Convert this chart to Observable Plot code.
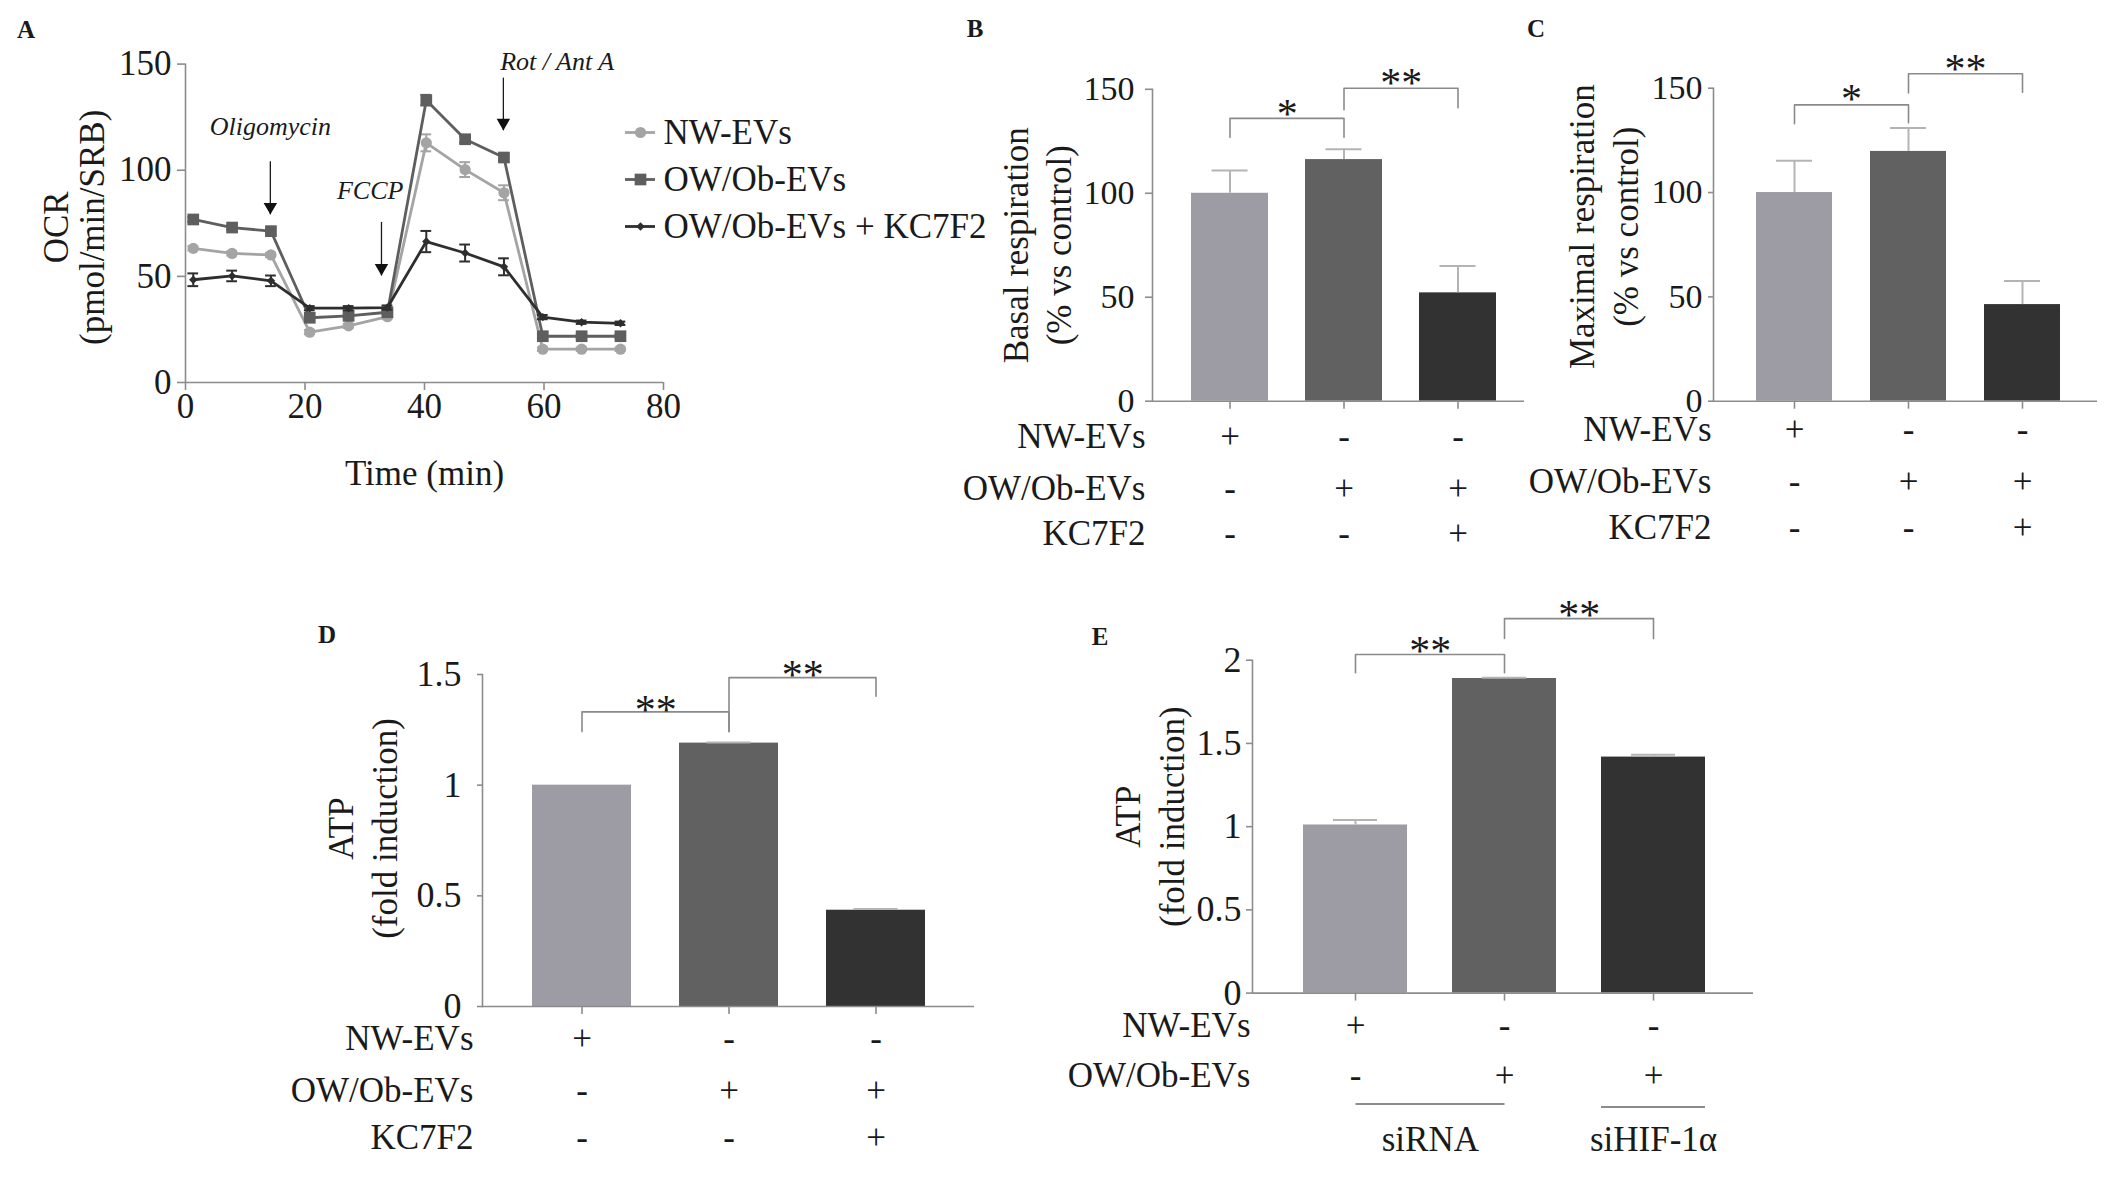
<!DOCTYPE html>
<html><head><meta charset="utf-8">
<script src="https://cdn.jsdelivr.net/npm/d3@7"></script>
<script src="https://cdn.jsdelivr.net/npm/@observablehq/plot@0.6"></script>
<style>
html,body{margin:0;padding:0;background:#fff;}
#fig{position:relative;width:2126px;height:1196px;background:#fff;font-family:"Liberation Serif","Times New Roman",serif;color:#1a1a1a;overflow:hidden;}
.letter{position:absolute;font-weight:bold;font-size:25px;line-height:1;transform:translate(-50%,-50%);}
</style></head><body><div id="fig"></div>
<script>
// ---------------- Data ----------------
// Panel A: OCR time course
const timePoints = [1.3, 7.8, 14.3, 20.8, 27.3, 33.8, 40.3, 46.8, 53.3, 59.8, 66.3, 72.8];
const ocrNW    = [63.2, 60.8, 60.1, 23.7, 26.7, 31.0, 112.9, 100.3, 89.4, 15.7, 15.7, 15.7];
const ocrNWErr = [1, 1, 1, 1, 1, 1, 4, 3.5, 3.5, 0.8, 0.8, 0.8];
const ocrOW    = [76.8, 73.0, 71.3, 30.5, 31.4, 33.1, 133.0, 114.6, 106.0, 21.8, 21.8, 21.8];
const ocrOWErr = [1, 1, 1, 1, 1, 1, 2.5, 1.5, 1.5, 1, 1, 1];
const ocrKC    = [48.4, 50.2, 47.9, 35.0, 35.0, 35.3, 66.4, 61.0, 54.5, 30.8, 28.4, 27.9];
const ocrKCErr = [3, 2.5, 2.5, 1, 1, 1, 5, 4, 4, 1, 0.8, 0.8];
const seriesNames = ["NW-EVs", "OW/Ob-EVs", "OW/Ob-EVs + KC7F2"];
const timeTicks = [0, 20, 40, 60, 80];
const ocrTicks = [0, 50, 100, 150];
const drugNames = ["Oligomycin", "FCCP", "Rot / Ant A"];
const drugTimes = [14.2, 32.8, 53.2];
const arrowFrom = [104, 75.4, 143.4];
const arrowTo = [79, 50.2, 118.6];
const drugLabelX = [14.2, 30.9, 62.2];
const drugLabelY = [120.7, 90.2, 151.2];

// Panels B-D: treatment groups
const groupsBCD = ["NW-EVs", "OW/Ob-EVs", "OW/Ob-EVs + KC7F2"];
const nwSigns = ["+", "-", "-"];
const owSigns = ["-", "+", "+"];
const kcSigns = ["-", "-", "+"];
const basalMean = [100, 116.2, 52.1];
const basalErr = [10.9, 5.0, 12.9];
const maximalMean = [100, 119.7, 46.3];
const maximalErr = [15.2, 11.2, 11.3];
const respTicks = [0, 50, 100, 150];
const atpD = [1.0, 1.19, 0.435];
const atpDErr = [0, 0.003, 0.006];
const atpDTicks = [0, 0.5, 1, 1.5];
// Panel E
const groupsE = ["NW-EVs + siRNA", "OW/Ob-EVs + siRNA", "OW/Ob-EVs + siHIF-1α"];
const nwSignsE = ["+", "-", "-"];
const owSignsE = ["-", "+", "+"];
const atpE = [1.01, 1.89, 1.418];
const atpEErr = [0.03, 0.005, 0.014];
const atpETicks = [0, 0.5, 1, 1.5, 2];
const siLabels = ["siRNA", "siHIF-1α"];

// Significance brackets (data units)
const bracketsB = [
  {from: 0, to: 1, top: 136, low1: 126.9, low2: 126.9, label: "*", star: 141},
  {from: 1, to: 2, top: 150.5, low1: 140.2, low2: 141.1, label: "**", star: 156}
];
const bracketsC = [
  {from: 0, to: 1, top: 142, low1: 133, low2: 133.5, label: "*", star: 147.7},
  {from: 1, to: 2, top: 156.9, low1: 147.7, low2: 148, label: "**", star: 162.2}
];
const bracketsD = [
  {from: 0, to: 1, top: 1.331, low1: 1.242, low2: 1.242, label: "**", star: 1.367},
  {from: 1, to: 2, top: 1.486, low1: 1.242, low2: 1.402, label: "**", star: 1.528}
];
const bracketsE = [
  {from: 0, to: 1, top: 2.034, low1: 1.925, low2: 1.925, label: "**", star: 2.096},
  {from: 1, to: 2, top: 2.25, low1: 2.13, low2: 2.13, label: "**", star: 2.308}
];

// ---------------- Styles ----------------
const seriesColors = ["#a4a4a4", "#5e5e5e", "#2e2e2e"];
const seriesSymbols = ["circle", "square", "diamond2"];
const seriesR = [5.6, 6.6, 3.8];
const barColors = ["#9d9ca4", "#616161", "#323232"];
const axisColor = "#8c8c8c";
const errColor = "#b4b4b4";
const bracketColor = "#8a8a8a";
const FONT = '"Liberation Serif", "Times New Roman", serif';
const baseStyle = {fontFamily: FONT, fontSize: "35px", color: "#1a1a1a", background: "transparent", overflow: "visible"};

const fig = document.getElementById("fig");
function place(svg, left, top) {
  svg.style.position = "absolute";
  svg.style.left = left + "px";
  svg.style.top = top + "px";
  svg.style.maxWidth = "none";
  fig.appendChild(svg);
}
function letter(t, x, y) {
  const d = document.createElement("div");
  d.className = "letter"; d.textContent = t;
  d.style.left = x + "px"; d.style.top = y + "px";
  fig.appendChild(d);
}

// ---------------- Panel A ----------------
const ocrValues = [ocrNW, ocrOW, ocrKC];
const ocrErrors = [ocrNWErr, ocrOWErr, ocrKCErr];
const ocrTable = seriesNames.flatMap((s, k) => timePoints.map((t, i) => ({series: s, k, t, v: ocrValues[k][i], e: ocrErrors[k][i]})));
const drugTable = drugNames.map((name, i) => ({name, t: drugTimes[i], from: arrowFrom[i], to: arrowTo[i], lx: drugLabelX[i], ly: drugLabelY[i]}));

const seriesMarks = seriesNames.flatMap((s, k) => {
  const d = ocrTable.filter(r => r.k === k);
  const col = seriesColors[k];
  return [
    Plot.line(d, {x: "t", y: "v", stroke: col, strokeWidth: 2.8}),
    Plot.ruleX(d, {x: "t", y1: r => r.v - r.e, y2: r => r.v + r.e, stroke: col, strokeWidth: 2}),
    Plot.ruleY(d, {y: r => r.v + r.e, x1: r => r.t - 0.9, x2: r => r.t + 0.9, stroke: col, strokeWidth: 2}),
    Plot.ruleY(d, {y: r => r.v - r.e, x1: r => r.t - 0.9, x2: r => r.t + 0.9, stroke: col, strokeWidth: 2}),
    Plot.dot(d, {x: "t", y: "v", symbol: seriesSymbols[k], r: seriesR[k], fill: col, stroke: "none"})
  ];
});

const plotA = Plot.plot({
  width: 700, height: 520, marginLeft: 185, marginRight: 37, marginTop: 63.6, marginBottom: 138,
  style: baseStyle,
  x: {domain: [0, 80]}, y: {domain: [0, 150]},
  marks: [
    Plot.ruleY([0], {stroke: axisColor, strokeWidth: 1.6}),
    Plot.ruleX([0], {stroke: axisColor, strokeWidth: 1.6}),
    Plot.axisX({ticks: timeTicks, tickSize: 8, tickPadding: 3, stroke: axisColor, strokeWidth: 1.6, label: null}),
    Plot.axisY({ticks: ocrTicks, tickSize: 8, tickPadding: 6, stroke: axisColor, strokeWidth: 1.6, label: null}),
    Plot.text(["Time (min)"], {text: d => d, frameAnchor: "bottom", textAnchor: "middle", dy: 91.5, lineAnchor: "middle"}),
    Plot.text(["OCR\n(pmol/min/SRB)"], {text: d => d, frameAnchor: "left", textAnchor: "middle", rotate: -90, dx: -111, dy: 4, lineHeight: 1.03, lineAnchor: "middle"}),
    ...seriesMarks,
    Plot.ruleX(drugTable, {x: "t", y1: "from", y2: "to", stroke: "#1a1a1a", strokeWidth: 1.3}),
    Plot.dot(drugTable, {x: "t", y: "to", symbol: "triangle", rotate: 180, r: 5, fill: "#111", stroke: "none", dy: -8}),
    Plot.text(drugTable, {x: "lx", y: "ly", text: "name", fontStyle: "italic", fontSize: 26})
  ]
});
place(plotA, 0, 0);

const legendA = Plot.plot({
  width: 420, height: 160, marginLeft: 25, marginRight: 365, marginTop: 0, marginBottom: 0,
  style: baseStyle,
  x: {domain: [0, 1], axis: null},
  y: {type: "point", domain: seriesNames, range: [31.7, 126.7], padding: 0, axis: null},
  marks: seriesNames.flatMap((s, k) => [
    Plot.ruleY([s], {y: d => d, x1: () => 0, x2: () => 1, stroke: seriesColors[k], strokeWidth: 2.8}),
    Plot.dot([s], {x: () => 0.5, y: d => d, symbol: seriesSymbols[k], r: seriesR[k], fill: seriesColors[k], stroke: "none"}),
    Plot.text([s], {x: () => 1, y: d => d, text: d => d, dx: 8, textAnchor: "start", lineAnchor: "middle", fontSize: 35})
  ])
});
place(legendA, 600, 100);

// ---------------- Bar panels ----------------
function barPanel(o) {
  const n = o.groups.length;
  const frameW = o.width - o.mL - o.mR;
  const step = frameW / (n - o.pi + 2 * o.po);
  const data = o.groups.map((g, i) => ({g, v: o.values[i], e: o.errors[i]}));
  const errs = data.filter(d => d.e > 0);
  const bracketPts = o.brackets.flatMap((b, j) => [
    {j, x: o.groups[b.from], y: b.low1}, {j, x: o.groups[b.from], y: b.top},
    {j, x: o.groups[b.to], y: b.top}, {j, x: o.groups[b.to], y: b.low2}
  ]);
  const rowMarks = o.rows.flatMap((r, ri) => [
    Plot.text([r.label], {text: d => d, frameAnchor: "bottom-left", textAnchor: "end", lineAnchor: "middle", dx: o.rowDx, dy: o.rowDy[ri], fontSize: 35}),
    Plot.text(o.groups, {x: d => d, text: (d, i) => r.signs[i], frameAnchor: "bottom", textAnchor: "middle", lineAnchor: "middle", dy: o.rowDy[ri], fontSize: 35})
  ]);
  const p = Plot.plot({
    width: o.width, height: o.height, marginLeft: o.mL, marginRight: o.mR, marginTop: o.mT, marginBottom: o.mB,
    style: baseStyle,
    x: {type: "band", domain: o.groups, paddingInner: o.pi, paddingOuter: o.po, align: o.align},
    y: {domain: o.yDomain},
    color: {domain: o.groups, range: barColors},
    marks: [
      Plot.barY(data, {x: "g", y: "v", fill: "g"}),
      Plot.ruleX(errs, {x: "g", y1: "v", y2: d => d.v + d.e, stroke: errColor, strokeWidth: 2}),
      Plot.tickY(errs, {x: "g", y: d => d.v + d.e, stroke: errColor, strokeWidth: 2, insetLeft: o.capInset, insetRight: o.capInset}),
      Plot.ruleY([0], {stroke: axisColor, strokeWidth: 1.6}),
      Plot.frame({anchor: "left", stroke: axisColor, strokeWidth: 1.6}),
      Plot.axisY({ticks: o.yTicks, tickFormat: d => String(d), tickSize: o.tickSize, tickPadding: o.tickPadding, stroke: axisColor, strokeWidth: 1.6, fontSize: o.tickFont, label: null}),
      Plot.axisX({tickSize: 8, tickFormat: () => "", stroke: axisColor, strokeWidth: 1.6, label: null}),
      Plot.line(bracketPts, {x: "x", y: "y", z: "j", stroke: bracketColor, strokeWidth: 1.6}),
      Plot.text(o.brackets, {x: b => o.groups[b.from], y: "star", text: "label", dx: step / 2, dy: 7, fontSize: 42, lineAnchor: "middle"}),
      Plot.text([o.title], {text: d => d, frameAnchor: "left", textAnchor: "middle", rotate: -90, dx: o.titleDx, dy: o.titleDy, lineHeight: o.titleLH, lineAnchor: "middle", fontSize: 35}),
      ...rowMarks,
      ...(o.extra ? o.extra(step) : [])
    ]
  });
  place(p, o.left, o.top);
}

const rowsBCD = [
  {label: "NW-EVs", signs: nwSigns},
  {label: "OW/Ob-EVs", signs: owSigns},
  {label: "KC7F2", signs: kcSigns}
];

barPanel({
  left: 960, top: 0, width: 600, height: 560, mL: 192, mR: 36, mT: 88.8, mB: 159.3,
  groups: groupsBCD, values: basalMean, errors: basalErr, yDomain: [0, 150], yTicks: respTicks,
  pi: 0.3275, po: 0.288, align: 0.576, capInset: 20.5, tickSize: 7, tickPadding: 11, tickFont: 34,
  brackets: bracketsB, title: "Basal respiration\n(% vs control)", titleDx: -116.7, titleDy: 0, titleLH: 1.24,
  rows: rowsBCD, rowDx: -7, rowDy: [35.8, 87.3, 132.3]
});

barPanel({
  left: 1500, top: 0, width: 626, height: 560, mL: 213, mR: 29, mT: 87.7, mB: 159.3,
  groups: groupsBCD, values: maximalMean, errors: maximalErr, yDomain: [0, 150], yTicks: respTicks,
  pi: 0.334, po: 0.351, align: 0.534, capInset: 20, tickSize: 5, tickPadding: 6, tickFont: 34,
  brackets: bracketsC, title: "Maximal respiration\n(% vs control)", titleDx: -112, titleDy: -18, titleLH: 1.257,
  rows: rowsBCD, rowDx: -2, rowDy: [28.3, 80.3, 126.3]
});

barPanel({
  left: 300, top: 600, width: 700, height: 560, mL: 182, mR: 26, mT: 74, mB: 154,
  groups: groupsBCD, values: atpD, errors: atpDErr, yDomain: [0, 1.5], yTicks: atpDTicks,
  pi: 0.329, po: 0.3323, align: 0.5, capInset: 27.5, tickSize: 5, tickPadding: 16, tickFont: 36,
  brackets: bracketsD, title: "ATP\n(fold induction)", titleDx: -122, titleDy: -12, titleLH: 1.27,
  rows: rowsBCD, rowDx: -9, rowDy: [32, 84, 131]
});

barPanel({
  left: 1080, top: 580, width: 720, height: 616, mL: 172, mR: 47, mT: 79.7, mB: 203.4,
  groups: groupsE, values: atpE, errors: atpEErr, yDomain: [0, 2], yTicks: atpETicks,
  pi: 0.302, po: 0.3238, align: 0.515, capInset: 30, tickSize: 6, tickPadding: 5, tickFont: 36,
  brackets: bracketsE, title: "ATP\n(fold induction)", titleDx: -105, titleDy: -10, titleLH: 1.27,
  rows: [{label: "NW-EVs", signs: nwSignsE}, {label: "OW/Ob-EVs", signs: owSignsE}], rowDx: -2, rowDy: [33, 82.4],
  extra: (step) => [
    Plot.link([siLabels[0]], {x1: () => groupsE[0], x2: () => groupsE[1], y1: () => 0, y2: () => 0, dy: 111, stroke: axisColor, strokeWidth: 2}),
    Plot.tickY([siLabels[1]], {x: () => groupsE[2], y: () => 0, dy: 114, stroke: axisColor, strokeWidth: 2}),
    Plot.text([siLabels[0]], {x: () => groupsE[0], text: d => d, frameAnchor: "bottom", textAnchor: "middle", dx: step / 2, dy: 147, lineAnchor: "middle", fontSize: 35}),
    Plot.text([siLabels[1]], {x: () => groupsE[2], text: d => d, frameAnchor: "bottom", textAnchor: "middle", dy: 147, lineAnchor: "middle", fontSize: 35})
  ]
});

letter("A", 26, 29);
letter("B", 975, 28);
letter("C", 1536, 28);
letter("D", 327, 634);
letter("E", 1100, 636);
</script></body></html>
